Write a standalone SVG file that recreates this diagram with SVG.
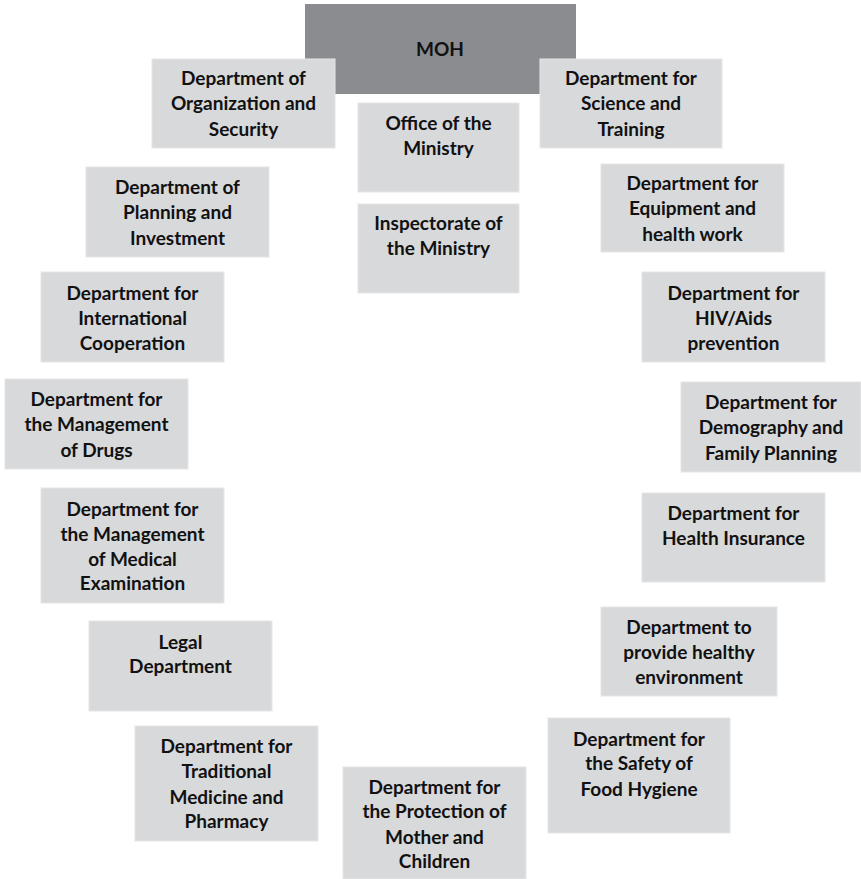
<svg xmlns="http://www.w3.org/2000/svg" width="861" height="879" viewBox="0 0 861 879">
<style>
.b{fill:#d8d9db;stroke:#e6e6e8;stroke-width:1}
.m{fill:#8b8c8f}
text{font-family:Lato,"Liberation Sans",sans-serif;font-weight:bold;font-size:19px;fill:#111;text-anchor:middle}
</style>
<rect width="861" height="879" fill="#fff"/>
<g id="moh"><rect class="m" x="305" y="4" width="271" height="90"/><text x="440" y="56">MOH</text></g>
<g id="org"><rect class="b" x="152" y="59" width="183" height="89"/><text x="243.5" y="85">Department of</text><text x="243.5" y="110">Organization and</text><text x="243.5" y="136">Security</text></g>
<g id="science"><rect class="b" x="540" y="59" width="182" height="89"/><text x="631" y="85">Department for</text><text x="631" y="110">Science and</text><text x="631" y="136">Training</text></g>
<g id="office"><rect class="b" x="358" y="103" width="161" height="89"/><text x="438.5" y="130">Office of the</text><text x="438.5" y="155">Ministry</text></g>
<g id="planning"><rect class="b" x="86" y="167" width="183" height="90"/><text x="177.5" y="194">Department of</text><text x="177.5" y="219">Planning and</text><text x="177.5" y="245">Investment</text></g>
<g id="inspectorate"><rect class="b" x="358" y="204" width="161" height="89"/><text x="438.5" y="230">Inspectorate of</text><text x="438.5" y="255">the Ministry</text></g>
<g id="equipment"><rect class="b" x="601" y="164" width="183" height="88"/><text x="692.5" y="190">Department for</text><text x="692.5" y="215">Equipment and</text><text x="692.5" y="241">health work</text></g>
<g id="international"><rect class="b" x="41" y="272" width="183" height="90"/><text x="132.5" y="300">Department for</text><text x="132.5" y="325">International</text><text x="132.5" y="350">Cooperation</text></g>
<g id="hiv"><rect class="b" x="642" y="272" width="183" height="90"/><text x="733.5" y="300">Department for</text><text x="733.5" y="325">HIV/Aids</text><text x="733.5" y="350">prevention</text></g>
<g id="drugs"><rect class="b" x="5" y="379" width="183" height="90"/><text x="96.5" y="406">Department for</text><text x="96.5" y="431">the Management</text><text x="96.5" y="457">of Drugs</text></g>
<g id="demography"><rect class="b" x="681" y="382" width="180" height="90"/><text x="771" y="409">Department for</text><text x="771" y="434">Demography and</text><text x="771" y="460">Family Planning</text></g>
<g id="insurance"><rect class="b" x="642" y="493" width="183" height="89"/><text x="733.5" y="520">Department for</text><text x="733.5" y="545">Health Insurance</text></g>
<g id="medexam"><rect class="b" x="41" y="488" width="183" height="115"/><text x="132.5" y="516">Department for</text><text x="132.5" y="541">the Management</text><text x="132.5" y="566">of Medical</text><text x="132.5" y="590">Examination</text></g>
<g id="legal"><rect class="b" x="89" y="621" width="183" height="90"/><text x="180.5" y="649">Legal</text><text x="180.5" y="673">Department</text></g>
<g id="environment"><rect class="b" x="601" y="607" width="176" height="89"/><text x="689" y="634">Department to</text><text x="689" y="659">provide healthy</text><text x="689" y="684">environment</text></g>
<g id="traditional"><rect class="b" x="135" y="726" width="183" height="115"/><text x="226.5" y="753">Department for</text><text x="226.5" y="778">Traditional</text><text x="226.5" y="804">Medicine and</text><text x="226.5" y="828">Pharmacy</text></g>
<g id="food"><rect class="b" x="548" y="718" width="182" height="115"/><text x="639" y="746">Department for</text><text x="639" y="770">the Safety of</text><text x="639" y="796">Food Hygiene</text></g>
<g id="mother"><rect class="b" x="343" y="767" width="183" height="112"/><text x="434.5" y="794">Department for</text><text x="434.5" y="818">the Protection of</text><text x="434.5" y="844">Mother and</text><text x="434.5" y="868">Children</text></g>
<g id="connectors"/>
</svg>
